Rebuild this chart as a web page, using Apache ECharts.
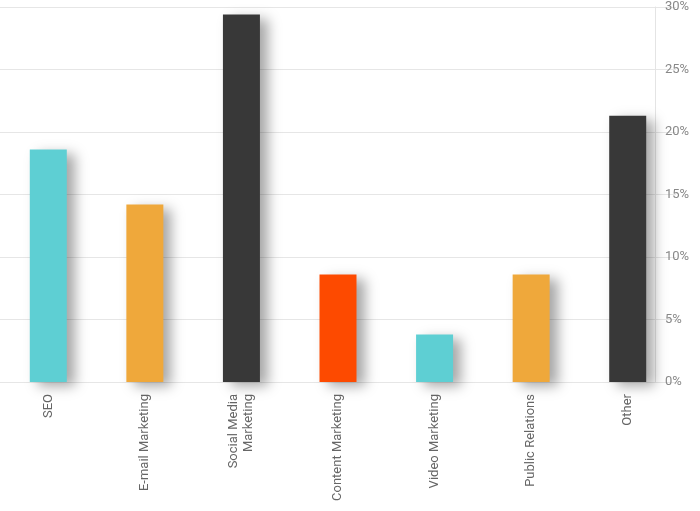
<!DOCTYPE html>
<html><head><meta charset="utf-8">
<script src="https://cdn.jsdelivr.net/npm/echarts@6/dist/echarts.min.js"></script>
<style>html,body{margin:0;padding:0;background:#fff}#c{width:700px;height:511px}</style>
</head><body><div id="c"></div>
<script>
const categories = ['SEO','E-mail Marketing','Social Media\nMarketing','Content Marketing','Video Marketing','Public Relations','Other'];
const values = [18.6, 14.2, 29.4, 8.6, 3.8, 8.6, 21.3];
const colors = ['#5ecfd3','#efa83b','#383838','#fd4a00','#5ecfd3','#efa83b','#383838'];
const chart = echarts.init(document.getElementById('c'));
chart.setOption({
  animation:false,
  grid:{left:-24,right:24,top:7,bottom:129,containLabel:false},
  xAxis:{type:'category',data:categories,
    axisLine:{show:false},axisTick:{show:false},
    axisLabel:{rotate:90,color:'#666',fontSize:13,fontFamily:'Roboto',margin:12,interval:0,lineHeight:15}},
  yAxis:{type:'value',position:'right',offset:-21,min:0,max:30,interval:5,
    axisLine:{show:true,lineStyle:{color:'#e4e4e4'}},
    axisLabel:{formatter:'{value}%',color:'#888',fontSize:13,fontFamily:'Roboto',margin:10},
    splitLine:{lineStyle:{color:'#e6e6e6'}}},
  series:[{type:'bar',barWidth:37,
    data:values.map((v,i)=>({value:v,itemStyle:{color:colors[i]}})),
    itemStyle:{shadowColor:'rgba(0,0,0,0.35)',shadowBlur:12,shadowOffsetX:8,shadowOffsetY:4}}]
});
</script></body></html>
